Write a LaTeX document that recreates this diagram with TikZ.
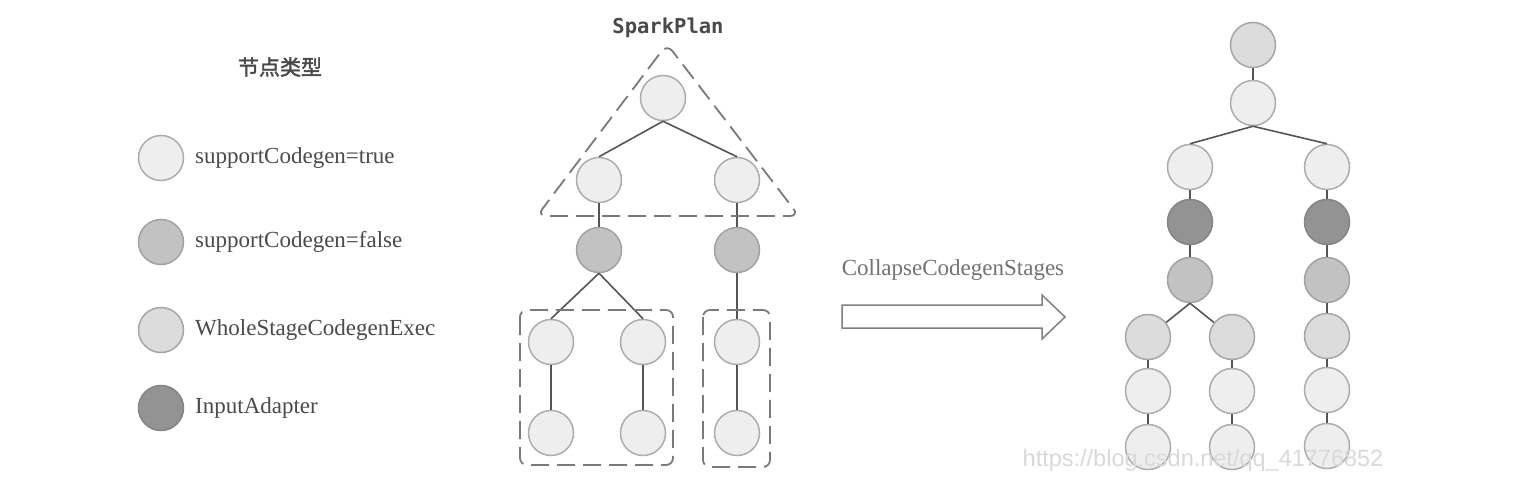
\documentclass[tikz,border=0pt]{standalone}
\usepackage{fontspec}
\setmainfont{Liberation Serif}
\newfontfamily\cjk[FakeBold=2]{Noto Sans CJK SC}
\newfontfamily\monob{DejaVu Sans Mono}
\newfontfamily\wmfont{Liberation Sans}
\definecolor{ctrue}{HTML}{EEEEEE}
\definecolor{btrue}{HTML}{ADADAD}
\definecolor{cfalse}{HTML}{C2C2C2}
\definecolor{bfalse}{HTML}{A2A2A2}
\definecolor{cwhole}{HTML}{DCDCDC}
\definecolor{bwhole}{HTML}{A6A6A6}
\definecolor{cinput}{HTML}{939393}
\definecolor{binput}{HTML}{858585}
\definecolor{edgec}{HTML}{555555}
\definecolor{dashc}{HTML}{7A7A7A}
\definecolor{txtc}{HTML}{4A4A4A}
\begin{document}
\begin{tikzpicture}[x=1pt,y=-1pt,
  circ/.style={circle,inner sep=0pt,minimum size=45pt,line width=1.5pt},
  tnode/.style={circ,fill=ctrue,draw=btrue},
  fnode/.style={circ,fill=cfalse,draw=bfalse},
  wnode/.style={circ,fill=cwhole,draw=bwhole},
  inode/.style={circ,fill=cinput,draw=binput},
  edge/.style={draw=edgec,line width=1.6pt},
  grp/.style={draw=dashc,line width=1.8pt,dash pattern=on 18pt off 8pt,rounded corners=7pt},
  lbl/.style={anchor=west,text=txtc,font=\fontsize{23}{27}\selectfont,inner sep=0pt},
]
\useasboundingbox (0,0) rectangle (1517,503);
\fill[white] (0,0) rectangle (1517,503);

% ---------- legend ----------
\node[text=txtc,font=\cjk\fontsize{21}{25}\selectfont] (title) at (280,67) {节点类型};
\node[tnode] (L1) at (161,158) {};
\node[fnode] (L2) at (161,242) {};
\node[wnode] (L3) at (161,330) {};
\node[inode] (L4) at (161,408) {};
\node[lbl] (T1) at (195,158) {supportCodegen=true};
\node[lbl] (T2) at (195,242) {supportCodegen=false};
\node[lbl] (T3) at (195,330) {WholeStageCodegenExec};
\node[lbl] (T4) at (195,408) {InputAdapter};

% ---------- middle tree (SparkPlan) ----------
\node[text=txtc,font=\monob\bfseries\fontsize{20.5}{24}\selectfont] (sp) at (668,28) {SparkPlan};
\node[tnode] (m1) at (663,98) {};
\node[tnode] (m2a) at (599,180) {};
\node[tnode] (m2b) at (737,180) {};
\node[fnode] (m3a) at (599,250) {};
\node[fnode] (m3b) at (737,250) {};
\node[tnode] (m4a) at (551,342) {};
\node[tnode] (m4b) at (643,342) {};
\node[tnode] (m4c) at (737,342) {};
\node[tnode] (m5a) at (551,433) {};
\node[tnode] (m5b) at (643,433) {};
\node[tnode] (m5c) at (737,433) {};
\draw[edge] (m1.south) -- (m2a.north);
\draw[edge] (m1.south) -- (m2b.north);
\draw[edge] (m2a) -- (m3a);
\draw[edge] (m2b) -- (m3b);
\draw[edge] (m3a.south) -- (m4a.north);
\draw[edge] (m3a.south) -- (m4b.north);
\draw[edge] (m3b) -- (m4c);
\draw[edge] (m4a) -- (m5a);
\draw[edge] (m4b) -- (m5b);
\draw[edge] (m4c) -- (m5c);
% dashed groups
\coordinate (tA) at (667,44);
\coordinate (tB) at (537,216);
\coordinate (tC) at (799,216);
\coordinate (tM) at (668,216);
\draw[grp,rounded corners=9pt,dash phase=4pt] (tM) -- (tB) -- (tA) -- (tC) -- (tM);
\draw[grp] (520,310) rectangle (673,465);
\draw[grp] (703,310) rectangle (770,467);

% ---------- transform arrow ----------
\node[text=black!55,font=\fontsize{23}{27}\selectfont] (arrlbl) at (953,270) {CollapseCodegenStages};
\draw[draw=black!50,line width=1.5pt,fill=white,line join=miter]
  (842,305) -- (1042,305) -- (1042,295) -- (1065,317) -- (1042,339) -- (1042,328) -- (842,328) -- cycle;

% ---------- right tree ----------
\node[wnode] (r1) at (1253,45) {};
\node[tnode] (r2) at (1253,103) {};
\node[tnode] (r3a) at (1190,167) {};
\node[tnode] (r3b) at (1327,167) {};
\node[inode] (r4a) at (1190,222) {};
\node[inode] (r4b) at (1327,222) {};
\node[fnode] (r5a) at (1190,280) {};
\node[fnode] (r5b) at (1327,280) {};
\node[wnode] (r6a) at (1148,337) {};
\node[wnode] (r6b) at (1232,337) {};
\node[wnode] (r6c) at (1327,336) {};
\node[tnode] (r7a) at (1148,391) {};
\node[tnode] (r7b) at (1232,391) {};
\node[tnode] (r7c) at (1327,390) {};
\node[tnode] (r8a) at (1148,447) {};
\node[tnode] (r8b) at (1232,447) {};
\node[tnode] (r8c) at (1327,446) {};
\draw[edge] (r1) -- (r2);
\draw[edge] (r2.south) -- (r3a.north);
\draw[edge] (r2.south) -- (r3b.north);
\draw[edge] (r3a) -- (r4a);
\draw[edge] (r4a) -- (r5a);
\draw[edge] (r5a.south) -- (r6a);
\draw[edge] (r5a.south) -- (r6b);
\draw[edge] (r6a) -- (r7a);
\draw[edge] (r7a) -- (r8a);
\draw[edge] (r6b) -- (r7b);
\draw[edge] (r7b) -- (r8b);
\draw[edge] (r3b) -- (r4b);
\draw[edge] (r4b) -- (r5b);
\draw[edge] (r5b) -- (r6c);
\draw[edge] (r6c) -- (r7c);
\draw[edge] (r7c) -- (r8c);

% ---------- watermark ----------
\node[text=black!15,font=\wmfont\fontsize{23.5}{27}\selectfont] (wm) at (1203,460) {https://blog.csdn.net/qq\_41776852};
\end{tikzpicture}
\end{document}
